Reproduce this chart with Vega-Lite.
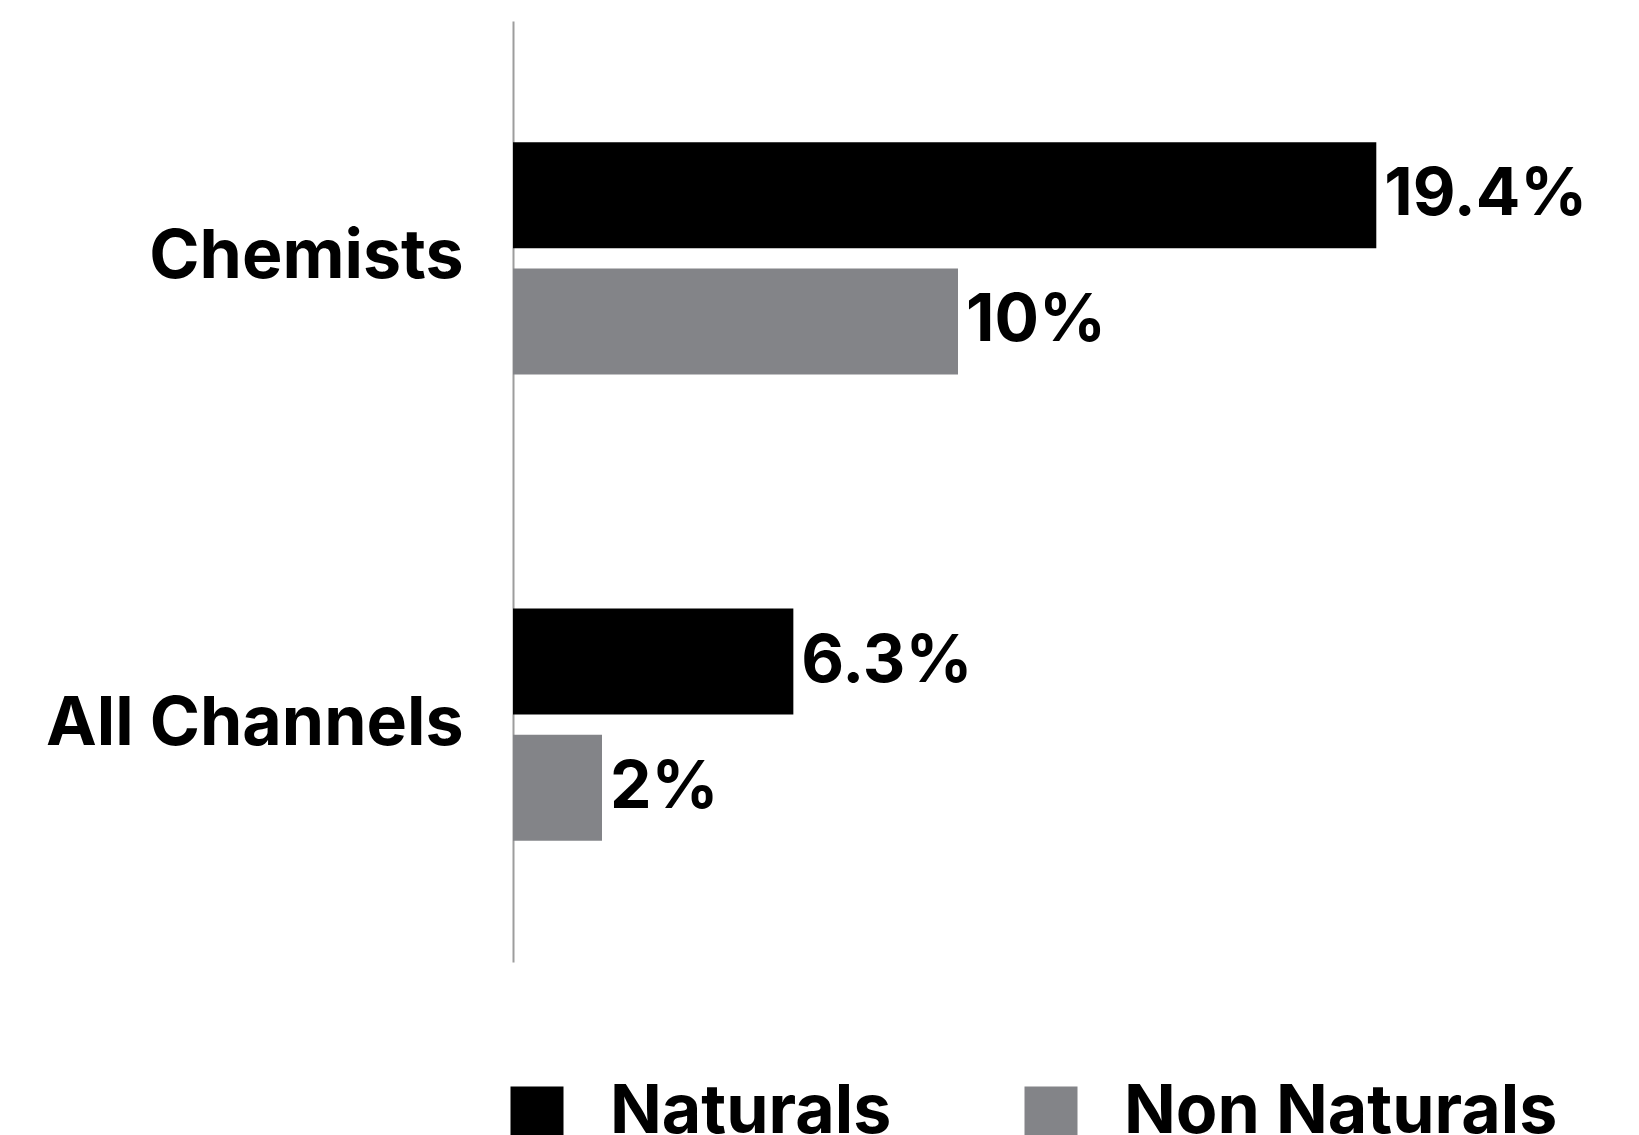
{
  "$schema": "https://vega.github.io/schema/vega-lite/v6.json",
  "autosize": {"type": "none"},
  "padding": {"left": 513, "top": 21, "right": 236, "bottom": 173},
  "width": 890,
  "height": 941,
  "background": "#ffffff",
  "config": {"view": {"stroke": null}},
  "data": {
    "values": [
      {"channel": "Chemists", "series": "Naturals", "value": 0.194},
      {"channel": "Chemists", "series": "Non Naturals", "value": 0.10},
      {"channel": "All Channels", "series": "Naturals", "value": 0.063},
      {"channel": "All Channels", "series": "Non Naturals", "value": 0.02}
    ]
  },
  "encoding": {
    "y": {
      "field": "channel",
      "type": "nominal",
      "sort": ["Chemists", "All Channels"],
      "scale": {"paddingInner": 0.502, "paddingOuter": 0.26},
      "axis": {
        "title": null,
        "ticks": false,
        "domain": true,
        "domainColor": "#9d9d9d",
        "domainWidth": 2,
        "labelFont": "Inter",
        "labelFontSize": 68,
        "labelFontWeight": "bold",
        "labelColor": "#000000",
        "labelPadding": 50,
        "labelLimit": 600
      }
    },
    "yOffset": {
      "field": "series",
      "type": "nominal",
      "sort": ["Naturals", "Non Naturals"],
      "scale": {"paddingInner": 0.159, "paddingOuter": 0}
    },
    "x": {
      "field": "value",
      "type": "quantitative",
      "scale": {"domain": [0, 0.2], "nice": false},
      "axis": null
    }
  },
  "layer": [
    {
      "mark": {"type": "bar"},
      "encoding": {
        "color": {
          "field": "series",
          "type": "nominal",
          "sort": ["Naturals", "Non Naturals"],
          "scale": {"domain": ["Naturals", "Non Naturals"], "range": ["#000000", "#838488"]},
          "legend": {
            "orient": "none",
            "legendX": -10,
            "legendY": 1058,
            "direction": "horizontal",
            "title": null,
            "padding": 0,
            "symbolType": "square",
            "symbolSize": 2809,
            "symbolStrokeWidth": 0,
            "labelFont": "Inter",
            "labelFontSize": 68,
            "labelFontWeight": "bold",
            "labelColor": "#000000",
            "labelOffset": 39,
            "labelLimit": 600,
            "columnPadding": 125
          }
        }
      }
    },
    {
      "mark": {
        "type": "text",
        "align": "left",
        "baseline": "middle",
        "dx": 8,
        "font": "Inter",
        "fontSize": 66,
        "fontWeight": "bold",
        "color": "#000000"
      },
      "encoding": {
        "text": {"field": "value", "type": "quantitative", "format": ".1~%"}
      }
    }
  ]
}
